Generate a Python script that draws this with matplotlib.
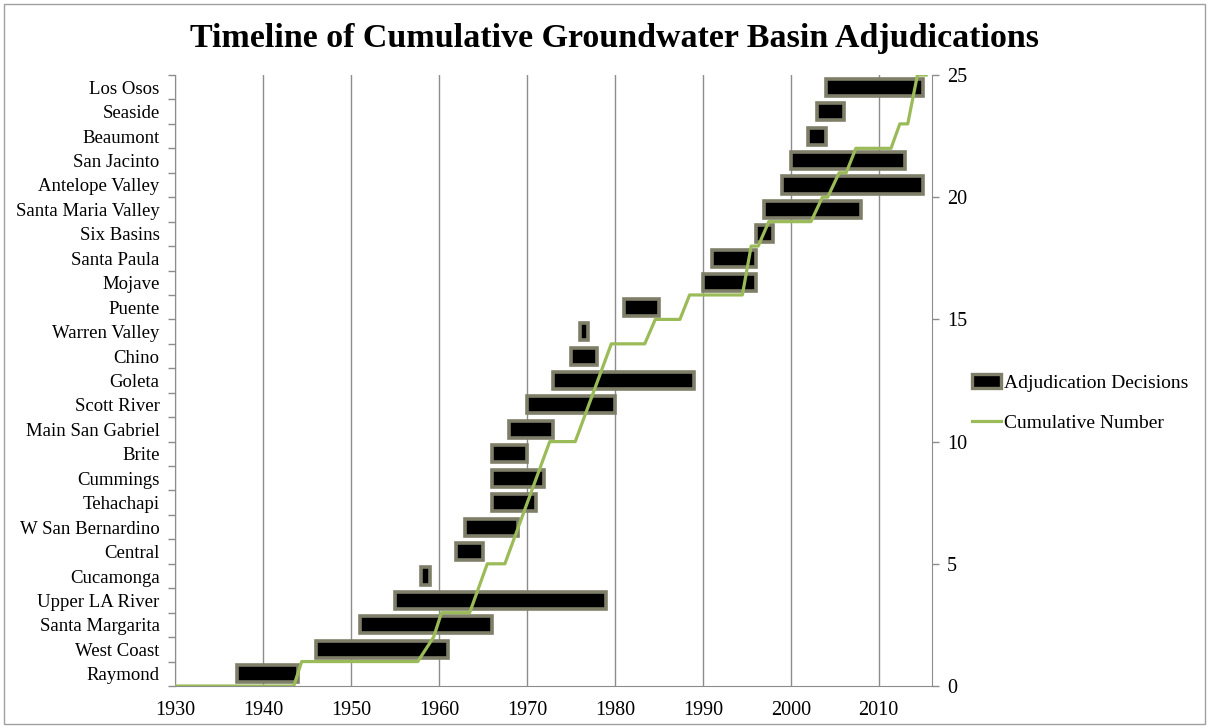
import numpy as np
import matplotlib.pyplot as plt
from matplotlib.patches import Rectangle, Patch
from matplotlib.lines import Line2D

plt.rcParams['font.family'] = ['Liberation Serif', 'DejaVu Serif']

# basins, bottom to top, with start and end year of each adjudication
basins = ["Raymond", "West Coast", "Santa Margarita", "Upper LA River", "Cucamonga",
          "Central", "W San Bernardino", "Tehachapi", "Cummings", "Brite",
          "Main San Gabriel", "Scott River", "Goleta", "Chino", "Warren Valley",
          "Puente", "Mojave", "Santa Paula", "Six Basins", "Santa Maria Valley",
          "Antelope Valley", "San Jacinto", "Beaumont", "Seaside", "Los Osos"]
start = [1937, 1946, 1951, 1955, 1958, 1962, 1963, 1966, 1966, 1966,
         1968, 1970, 1973, 1975, 1976, 1981, 1990, 1991, 1996, 1997,
         1999, 2000, 2002, 2003, 2004]
end = [1944, 1961, 1966, 1979, 1959, 1965, 1969, 1971, 1972, 1970,
       1973, 1980, 1989, 1978, 1977, 1985, 1996, 1996, 1998, 2008,
       2015, 2013, 2004, 2006, 2015]

# cumulative number line (vertices)
cum_year = [1930, 1943.5, 1944.4, 1957.6, 1959.4, 1960.3, 1963.5, 1965.5, 1967.5,
            1972.6, 1975.5, 1979.6, 1983.4, 1984.6, 1987.4, 1988.5, 1994.5, 1995.5,
            1996.3, 1997.5, 2002.3, 2003.6, 2004.2, 2005.5, 2006.3, 2007.4, 2011.4,
            2012.4, 2013.3, 2014.4, 2015.4]
cum_num = [0, 0, 1, 1, 2, 3, 3, 5, 5,
           10, 10, 14, 14, 15, 15, 16, 16, 18,
           18, 19, 19, 20, 20, 21, 21, 22, 22,
           23, 23, 25, 25]

green = "#9bbb59"
edge = "#7f7f69"
grid_c = "#8c8c8c"

fig = plt.figure(figsize=(12.09, 7.28), dpi=100)
ax = fig.add_axes([175/1209, 42/728, (931.5-175)/1209, (686-75)/728])

ypos = np.arange(len(basins)) + 0.5
widths = np.array(end) - np.array(start)
ax.barh(ypos, widths, left=start, height=0.7, color="black",
        edgecolor=edge, linewidth=2.6, zorder=3)

ax.set_xlim(1930, 2016)
ax.set_ylim(0, 25)
ax.set_xticks(np.arange(1930, 2011, 10))
ax.set_yticks(ypos)
ax.set_yticklabels(basins)
ax.set_yticks(np.arange(0, 26), minor=True)
ax.tick_params(axis='y', which='major', length=0, pad=11, labelsize=13.5)
ax.tick_params(axis='y', which='minor', length=5, width=1, color=grid_c)
ax.tick_params(axis='x', length=0, pad=11, labelsize=14.5)
ax.grid(axis='x', color=grid_c, linewidth=1, zorder=0)
for s in ['top', 'right']:
    ax.spines[s].set_visible(False)
ax.spines['left'].set_color(grid_c)
ax.spines['bottom'].set_color(grid_c)

ax2 = ax.twinx()
ax2.plot(cum_year, cum_num, color=green, linewidth=2.3, zorder=4)
ax2.set_ylim(0, 25)
ax2.set_yticks(np.arange(0, 26, 5))
ax2.tick_params(axis='y', length=5, width=1, color=grid_c, pad=6, labelsize=14.5)
for s in ['top', 'left', 'bottom']:
    ax2.spines[s].set_visible(False)
ax2.spines['right'].set_color(grid_c)

fig.text(614/1209, 1 - 39/728, "Timeline of Cumulative Groundwater Basin Adjudications",
         ha='center', va='center', fontsize=24.5, fontweight='bold')

handles = [Patch(facecolor='black', edgecolor=edge, linewidth=2.4),
           Line2D([], [], color=green, linewidth=2.3)]
fig.legend(handles, ["Adjudication Decisions", "Cumulative Number"],
           loc='center left', bbox_to_anchor=(954/1209, 1 - 403/728),
           frameon=False, fontsize=14, handlelength=1.5, handletextpad=0.15,
           labelspacing=1.15)

fig.patches.append(Rectangle((4/1209, 4/728), 1 - 8/1209, 1 - 8/728,
                             transform=fig.transFigure, fill=False,
                             edgecolor="#a0a0a0", linewidth=1))

fig.savefig("out.png", dpi=100)
